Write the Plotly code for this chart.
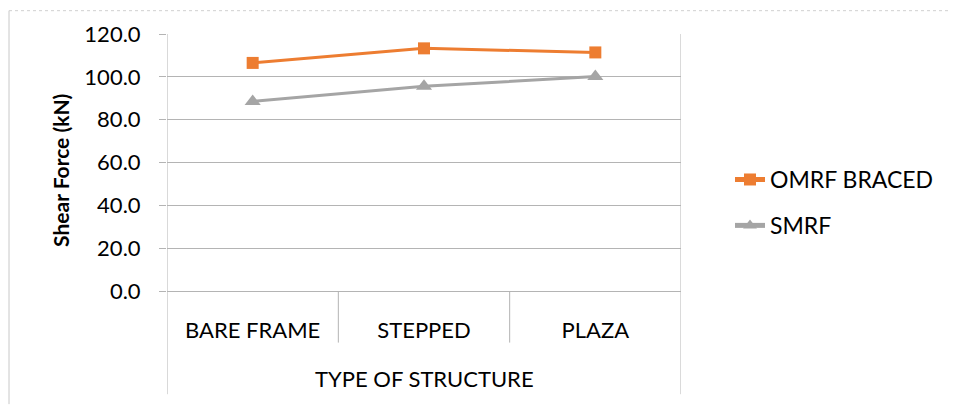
import plotly.graph_objects as go

categories = ["BARE FRAME", "STEPPED", "PLAZA"]
omrf_braced = [106.5, 113.3, 111.4]
smrf = [88.5, 95.6, 100.1]
y_ticks = [0, 20, 40, 60, 80, 100, 120]
y_tick_text = [f"{v:.1f}" for v in y_ticks]
group_label = "TYPE OF STRUCTURE"
y_title = "Shear Force (kN)"

FONT = "Lato"
GRID = "#b4b4b4"

fig = go.Figure()
fig.add_trace(go.Scatter(
    x=categories, y=omrf_braced, name="OMRF BRACED", mode="lines+markers",
    legendgroup="a",
    line=dict(color="#ed7d31", width=3),
    marker=dict(symbol="square", size=12, color="#ed7d31"),
))
fig.add_trace(go.Scatter(
    x=categories, y=smrf, name="SMRF", mode="lines+markers",
    legendgroup="b",
    line=dict(color="#a5a5a5", width=3),
    marker=dict(symbol="triangle-up", size=14, color="#a5a5a5"),
))

OFF = 8  # page body margin offset
W, H = 956 - OFF, 405 - OFF
L, R, T, B = 167, 681, 32, 291  # reference pixel coords of plot area
pw, ph = R - L, B - T

def py(p):
    return (B - p) / ph

def px_(p):
    return (p - L) / pw

shapes = []
for xb in [0.5, 1.5]:
    shapes.append(dict(type="line", xref="x", yref="paper", x0=xb, x1=xb,
                       y0=0, y1=py(343), line=dict(color=GRID, width=1)))
for xb in [-0.5, 2.5]:
    shapes.append(dict(type="line", xref="x", yref="paper", x0=xb, x1=xb,
                       y0=1, y1=py(395), line=dict(color=GRID, width=1)))
shapes.append(dict(type="line", xref="paper", yref="paper", x0=px_(9), x1=px_(9),
                   y0=py(8.5), y1=py(405), line=dict(color="#c8c8c8", width=1)))
shapes.append(dict(type="line", xref="paper", yref="paper", x0=px_(9), x1=px_(956),
                   y0=py(8.5), y1=py(8.5), line=dict(color="#d0d0d0", width=1, dash="dot")))

fig.update_layout(
    width=W, height=H,
    margin=dict(l=L - OFF, r=956 - R, t=T - OFF, b=405 - B, pad=0),
    paper_bgcolor="white", plot_bgcolor="white",
    font=dict(family=FONT, color="black"),
    showlegend=True,
    legend=dict(x=px_(730), y=py(157), xanchor="left", yanchor="top",
                font=dict(size=23, family=FONT), tracegroupgap=13,
                traceorder="grouped",
                itemsizing="constant", bgcolor="rgba(0,0,0,0)"),
    xaxis=dict(
        type="category", range=[-0.5, 2.5], showgrid=False,
        showline=True, linecolor=GRID, linewidth=1,
        ticks="", ticklabelstandoff=20,
        tickfont=dict(size=22, family=FONT, color="black"),
        zeroline=False,
    ),
    yaxis=dict(
        range=[0, 120], tickvals=y_ticks, ticktext=y_tick_text,
        showgrid=True, gridcolor=GRID, gridwidth=1,
        showline=False, ticks="outside", ticklen=7, tickcolor=GRID,
        tickfont=dict(size=22, family=FONT, color="black"),
        ticklabelstandoff=14,
        zeroline=False,
    ),
    shapes=shapes,
    annotations=[
        dict(text=group_label, xref="x", yref="paper", x=1, y=py(379),
             showarrow=False, font=dict(size=22, family=FONT),
             xanchor="center", yanchor="middle"),
        dict(text=f"<b>{y_title}</b>", xref="paper", yref="paper",
             x=px_(61), y=py(170), textangle=-90, showarrow=False,
             font=dict(size=21, family=FONT), xanchor="center", yanchor="middle"),
    ],
)
fig.write_html("out.html")
